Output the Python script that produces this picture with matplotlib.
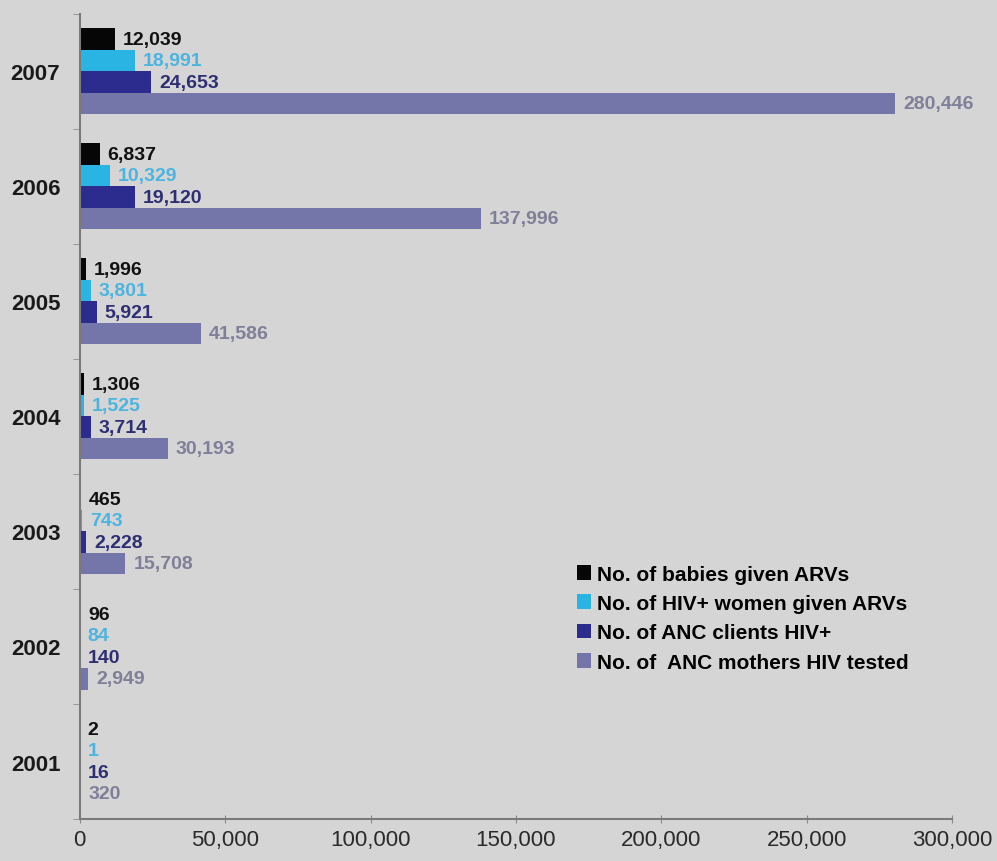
import matplotlib.pyplot as plt
import numpy as np

years = ['2001', '2002', '2003', '2004', '2005', '2006', '2007']
babies_arv = [2, 96, 465, 1306, 1996, 6837, 12039]
women_arv = [1, 84, 743, 1525, 3801, 10329, 18991]
anc_hiv_pos = [16, 140, 2228, 3714, 5921, 19120, 24653]
anc_tested = [320, 2949, 15708, 30193, 41586, 137996, 280446]

series_names = ['No. of babies given ARVs', 'No. of HIV+ women given ARVs',
                'No. of ANC clients HIV+', 'No. of  ANC mothers HIV tested']
bar_colors = ['#060606', '#2ab4e4', '#2b2c8e', '#7475a8']
text_colors = ['#111111', '#4db4e0', '#2e2e72', '#7f7f98']

plt.rcParams['font.family'] = ['Liberation Sans', 'DejaVu Sans']
bg = '#d5d5d5'

fig = plt.figure(figsize=(9.97, 8.62), dpi=100, facecolor=bg)
ax = fig.add_axes([0.080, 0.0487, 0.875, 0.934], facecolor=bg)

y = np.arange(len(years))
h = 0.187
offsets = [1.5 * h, 0.5 * h, -0.5 * h, -1.5 * h]
data = [babies_arv, women_arv, anc_hiv_pos, anc_tested]

for vals, off, col, tcol, name in zip(data, offsets, bar_colors, text_colors, series_names):
    ax.barh(y + off, vals, height=h, color=col, label=name, linewidth=0)
    for yi, v in zip(y, vals):
        ax.text(v + 2700, yi + off, f'{v:,}', va='center', ha='left',
                fontsize=14, fontweight='bold', color=tcol)

ax.set_xlim(0, 300000)
ax.set_ylim(-0.5, 6.5)
ax.set_xticks(np.arange(0, 300001, 50000))
ax.set_xticklabels([f'{t:,}' for t in range(0, 300001, 50000)],
                   fontsize=16, color='#2a2a2a')
ax.set_yticks(y)
ax.set_yticklabels(years, fontsize=16, fontweight='bold', color='#1a1a1a')
ax.set_yticks(np.arange(-0.5, 7, 1), minor=True)
ax.tick_params(axis='y', which='major', length=0, pad=14)
ax.tick_params(axis='y', which='minor', length=5, color='#8a8a8a', direction='out')
ax.tick_params(axis='x', length=6, color='#8a8a8a', direction='inout', pad=4)

for side in ['top', 'right']:
    ax.spines[side].set_visible(False)
for side in ['left', 'bottom']:
    ax.spines[side].set_color('#7a7a7a')
    ax.spines[side].set_linewidth(1.5)

handles, labels = ax.get_legend_handles_labels()
fig.legend(handles, labels, loc='upper left', bbox_to_anchor=(0.568, 0.356),
           frameon=False, prop={'size': 15, 'weight': 'bold'},
           handlelength=0.7, handleheight=0.7, handletextpad=0.25,
           labelspacing=0.5, borderpad=0)

fig.savefig('out.png', dpi=100, facecolor=bg)
